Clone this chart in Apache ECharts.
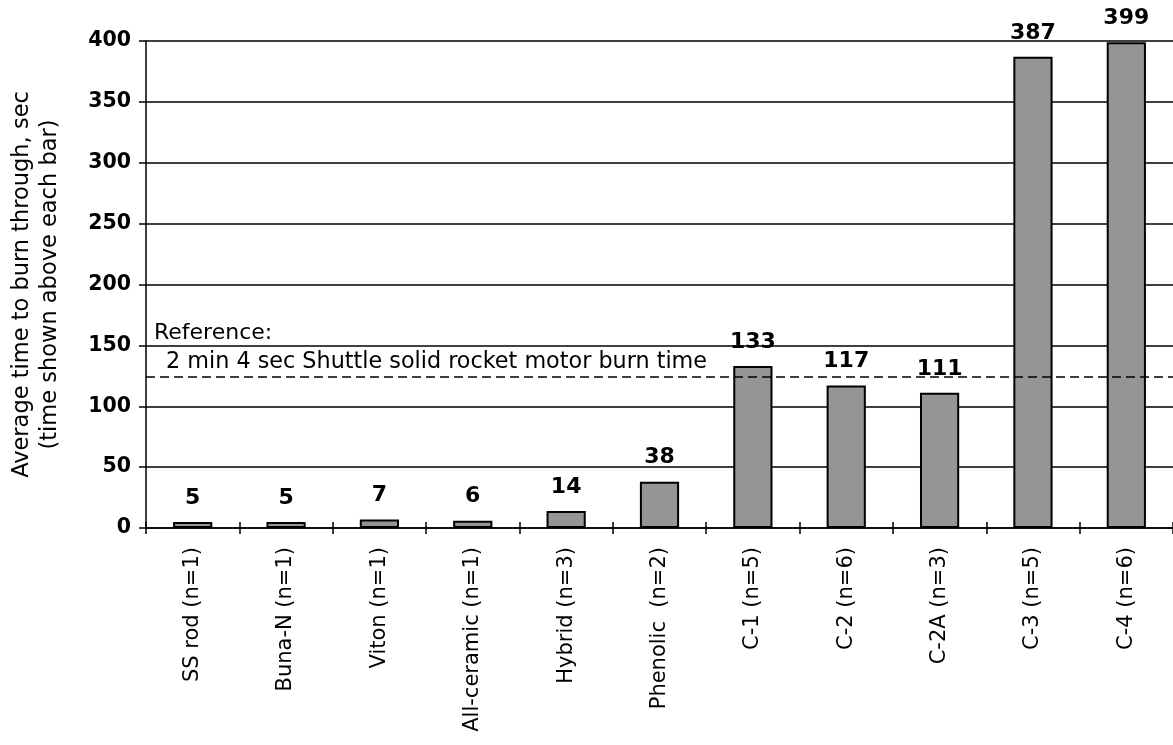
<!DOCTYPE html>
<html>
<head>
<meta charset="utf-8">
<script src="https://cdn.jsdelivr.net/npm/echarts@6/dist/echarts.min.js"></script>
<style>
html,body{margin:0;padding:0;background:#fff;}
#chart{width:1173px;height:745px;}
</style>
</head>
<body>
<div id="chart"></div>
<script>
const categories = ['SS rod (n=1)', 'Buna-N (n=1)', 'Viton (n=1)', 'All-ceramic (n=1)', 'Hybrid (n=3)', 'Phenolic  (n=2)', 'C-1 (n=5)', 'C-2 (n=6)', 'C-2A (n=3)', 'C-3 (n=5)', 'C-4 (n=6)'];
const burnTimes = [5, 5, 7, 6, 14, 38, 133, 117, 111, 387, 399];
const referenceValue = 124;
const referenceTitle = 'Reference:';
const referenceText = '2 min 4 sec Shuttle solid rocket motor burn time';
const yTicks = [0, 50, 100, 150, 200, 250, 300, 350, 400];
const yTitle = ['Average time to burn through, sec', '(time shown above each bar)'];

const FONT = 'DejaVu Sans';
const chart = echarts.init(document.getElementById('chart'), null, {renderer: 'canvas'});
chart.setOption({
  animation: false,
  backgroundColor: '#fff',
  grid: {left: 143, right: 0, top: 41, bottom: 217},
  xAxis: [{
    type: 'category',
    data: categories,
    position: 'bottom',
    axisLine: {show: true, lineStyle: {color: '#000', width: 1.5}},
    axisTick: {show: true, interval: 0, length: 6, inside: false, lineStyle: {color: '#000', width: 1.5}},
    axisLabel: {interval: 0, rotate: 90, margin: 19, color: '#000', fontFamily: FONT, fontSize: 21}
  }, {
    type: 'category',
    data: categories,
    position: 'bottom',
    axisLine: {show: false},
    axisTick: {show: true, interval: 0, length: 6, inside: true, lineStyle: {color: '#000', width: 1.5}},
    axisLabel: {show: false}
  }],
  yAxis: {
    type: 'value',
    min: yTicks[0],
    max: yTicks[yTicks.length - 1],
    interval: yTicks[1] - yTicks[0],
    name: yTitle.join('\n'),
    nameLocation: 'middle',
    nameGap: 82,
    nameRotate: 90,
    nameTextStyle: {color: '#000', fontFamily: FONT, fontSize: 22.5, lineHeight: 28},
    axisLine: {show: true, lineStyle: {color: '#000', width: 1.5}},
    axisTick: {show: true, length: 7, lineStyle: {color: '#000', width: 1.5}},
    axisLabel: {margin: 15, color: '#000', fontFamily: FONT, fontSize: 20.5, fontWeight: 'bold'},
    splitLine: {show: true, lineStyle: {color: '#000', width: 1.5}}
  },
  series: [{
    type: 'bar',
    data: burnTimes,
    barWidth: '42%',
    itemStyle: {color: '#959595', borderColor: '#000', borderWidth: 2},
    label: {show: true, position: 'top', distance: 13, color: '#000', fontFamily: FONT, fontSize: 22, fontWeight: 'bold'},
    markLine: {
      silent: true,
      symbol: ['none', 'none'],
      lineStyle: {color: '#000', type: [9, 5], width: 1.5},
      label: {
        show: true,
        position: 'insideStartTop',
        distance: 0,
        formatter: '{r|' + referenceTitle + '}\n{s|' + referenceText + '}',
        rich: {
          r: {fontFamily: FONT, fontSize: 22, color: '#000', lineHeight: 29, padding: [0, 0, 0, 8]},
          s: {fontFamily: FONT, fontSize: 22.3, color: '#000', lineHeight: 29, padding: [0, 0, 0, 20]}
        }
      },
      data: [{yAxis: referenceValue}]
    }
  }]
});
</script>
</body>
</html>
